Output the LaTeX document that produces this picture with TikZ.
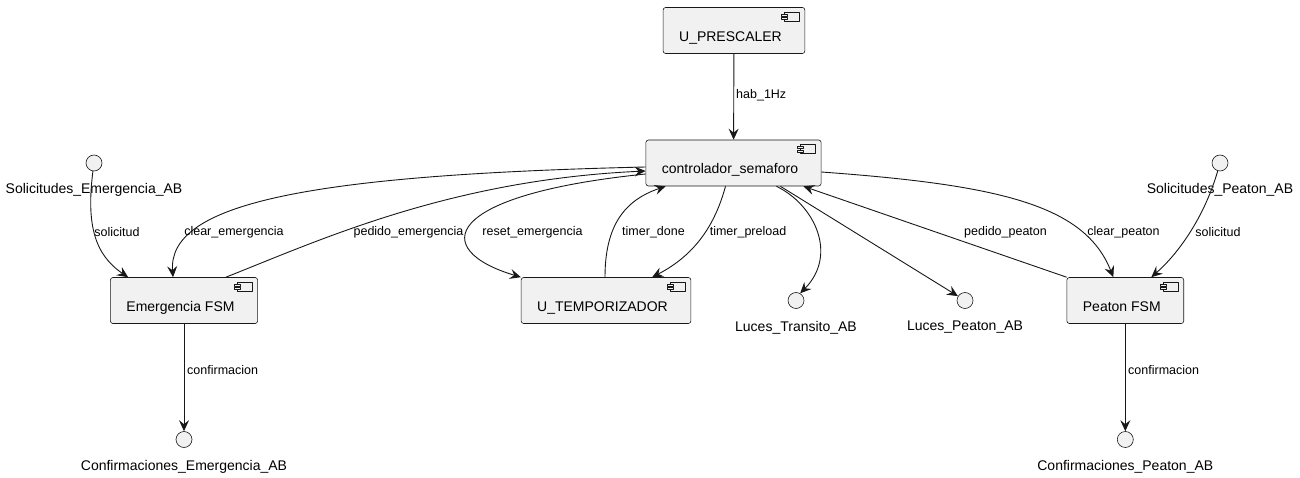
\documentclass[tikz,border=0pt]{standalone}
\usepackage{fontspec}
\setmainfont{Liberation Sans}
\usetikzlibrary{arrows.meta}
\definecolor{umlfill}{HTML}{F1F1F1}
\definecolor{umlline}{HTML}{181818}
\newcommand{\compicon}[1]{%
  \begin{scope}[shift={(#1.north east)},draw=umlline,fill=umlfill,line width=0.6pt]
    \filldraw (-21,5) rectangle (-6,14);
    \filldraw (-24,7) rectangle (-18,9);
    \filldraw (-24,10.5) rectangle (-18,12.5);
  \end{scope}}
\begin{document}
\begin{tikzpicture}[x=1pt,y=-1pt,>={Stealth[length=11pt,width=10pt,inset=4pt]},line join=round,
    comp/.style={draw=umlline,fill=umlfill,line width=0.6pt,rounded corners=2.5pt,font=\fontsize{14}{16}\selectfont,
      text height=24pt,text depth=2pt,inner ysep=10pt,inner xsep=16pt,execute at end node={\hspace*{7pt}}},
    iface/.style={circle,draw=umlline,fill=umlfill,line width=0.6pt,minimum size=16pt,inner sep=0pt},
    ifacetext/.style={font=\fontsize{14}{16}\selectfont,yshift=-9pt},
    conn/.style={->,draw=umlline,line width=0.9pt},
    lbl/.style={font=\fontsize{12.5}{14}\selectfont,inner sep=1pt}]
\useasboundingbox (0,0) rectangle (1300,478);
\node[comp] (prescaler) at (734,30.5) {U\_PRESCALER};
\node[comp] (ctrl) at (733.5,163) {controlador\_semaforo};
\node[comp] (emerg) at (184,300.5) {Emergencia FSM};
\node[comp] (temp) at (606,300.5) {U\_TEMPORIZADOR};
\node[comp] (peaton) at (1125.3,300.5) {Peaton FSM};
\foreach \n in {prescaler,ctrl,emerg,temp,peaton} \compicon{\n};
\node[iface,label={[ifacetext]below:Solicitudes\_Emergencia\_AB}] (solE) at (94,163) {};
\node[iface,label={[ifacetext]below:Solicitudes\_Peaton\_AB}] (solP) at (1220,163) {};
\node[iface,label={[ifacetext]below:Luces\_Transito\_AB}] (lucesT) at (796,300.5) {};
\node[iface,label={[ifacetext]below:Luces\_Peaton\_AB}] (lucesP) at (965,300.5) {};
\node[iface,label={[ifacetext]below:Confirmaciones\_Emergencia\_AB}] (confE) at (184,439.5) {};
\node[iface,label={[ifacetext]below:Confirmaciones\_Peaton\_AB}] (confP) at (1125.3,439.5) {};
\draw[conn] (prescaler) -- (ctrl);
\draw[conn] (solE) .. controls (86,225) and (95,255) .. ([xshift=18pt]emerg.north west);
\draw[conn] ([yshift=-4pt]ctrl.west) .. controls (300,175) and (168,205) .. ([xshift=-11pt]emerg.north);
\draw[conn] ([xshift=-32pt]emerg.north east) .. controls (320,240) and (450,180) .. ([yshift=-8pt]ctrl.west);
\draw[conn] ([yshift=-11pt]ctrl.west) .. controls (440,195) and (430,250) .. (temp.north west);
\draw[conn] ([xshift=-1pt]temp.north) .. controls (605,225) and (625,200) .. ([xshift=20pt]ctrl.south west);
\draw[conn] ([xshift=-8pt]ctrl.south) .. controls (715,225) and (695,255) .. ([xshift=-39pt]temp.north east);
\draw[conn] ([xshift=-45pt]ctrl.south east) .. controls (815,205) and (838,255) .. (lucesT.60);
\draw[conn] ([xshift=-41pt]ctrl.south east) -- (lucesP);
\draw[conn] (peaton.north west) -- ([xshift=-18pt]ctrl.south east);
\draw[conn] ([yshift=-9pt]ctrl.east) .. controls (1000,185) and (1085,205) .. ([xshift=-12pt]peaton.north);
\draw[conn] (solP) .. controls (1205,215) and (1180,252) .. ([xshift=26pt]peaton.north);
\draw[conn] (emerg) -- (confE);
\draw[conn] (peaton) -- (confP);
\node[lbl,anchor=west] (lhab) at (735,95) {hab\_1Hz};
\node[lbl] (lsolE) at (117,232) {solicitud};
\node[lbl] (lclrE) at (234,232) {clear\_emergencia};
\node[lbl] (lpedE) at (408.5,232) {pedido\_emergencia};
\node[lbl] (lrst) at (532.5,232) {reset\_emergencia};
\node[lbl] (ldone) at (653.5,232) {timer\_done};
\node[lbl] (lpre) at (748,232) {timer\_preload};
\node[lbl] (lpedP) at (1005.5,232) {pedido\_peaton};
\node[lbl] (lclrP) at (1123.5,232) {clear\_peaton};
\node[lbl] (lsolP) at (1218,232) {solicitud};
\node[lbl,anchor=west] (lconfE) at (186,370) {confirmacion};
\node[lbl,anchor=west] (lconfP) at (1127,370) {confirmacion};
\end{tikzpicture}
\end{document}
